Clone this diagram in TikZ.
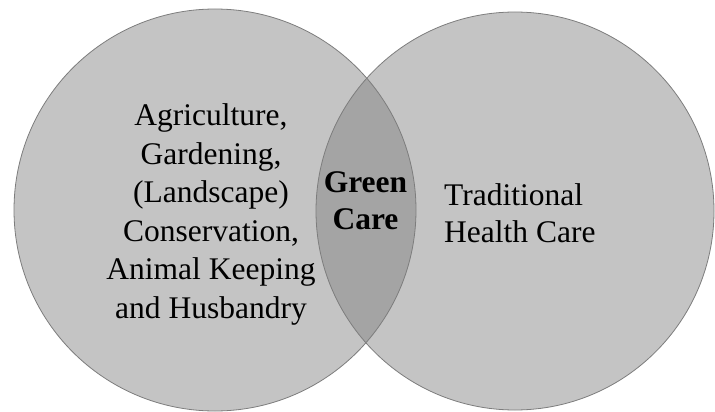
\documentclass[tikz,border=0pt]{standalone}
\usepackage{fontspec}
\setmainfont{Liberation Serif}
\begin{document}
\begin{tikzpicture}[x=1pt,y=-1pt,
  circfill/.style={fill={rgb,255:red,196;green,196;blue,196}},
  lensfill/.style={fill={rgb,255:red,164;green,164;blue,164}},
  rim/.style={draw={rgb,255:red,125;green,125;blue,125},line width=0.8pt},
  label/.style={inner sep=0pt,font=\fontsize{31.5}{38.5}\selectfont},
  core/.style={inner sep=0pt,font=\bfseries\fontsize{31.5}{37.5}\selectfont}]
  \useasboundingbox (0,0) rectangle (715,412);
  % the two sets
  \coordinate (L) at (215,210);
  \coordinate (R) at (515,211);
  \fill[circfill] (L) circle[radius=201];
  \fill[circfill] (R) circle[radius=199];
  % shared region
  \begin{scope}
    \clip (L) circle[radius=201];
    \fill[lensfill] (R) circle[radius=199];
  \end{scope}
  \draw[rim] (L) circle[radius=201];
  \draw[rim] (R) circle[radius=199];
  % labels (base anchor sits on the last line)
  \node[label,align=center,anchor=base] (left) at (211,318)
    {Agriculture,\\Gardening,\\(Landscape)\\Conservation,\\Animal Keeping\\and Husbandry};
  \node[core,align=center,anchor=base] (mid) at (365.5,229.5)
    {Green\\Care};
  \node[label,align=left,anchor=base west,font=\fontsize{31.5}{37}\selectfont] (right) at (444,242)
    {Traditional\\Health Care};
\end{tikzpicture}
\end{document}
